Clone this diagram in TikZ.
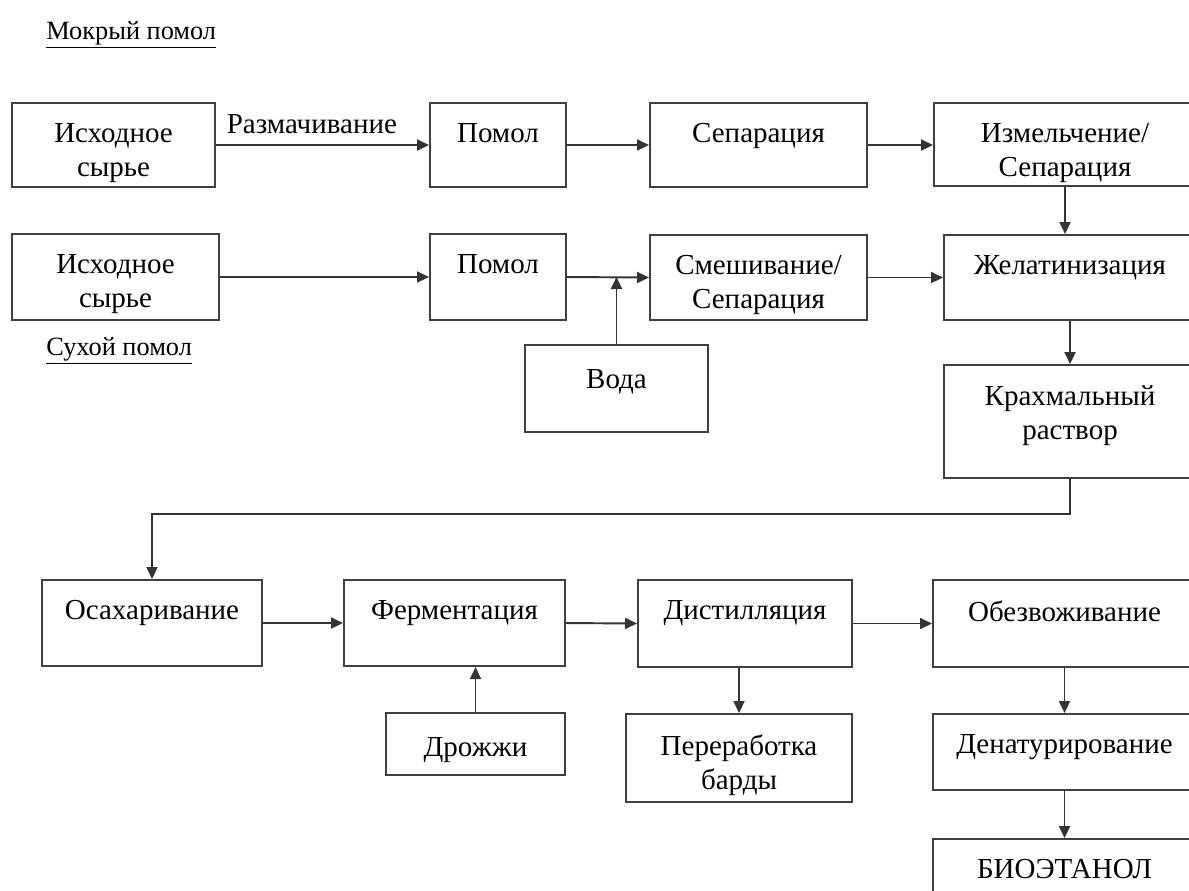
\documentclass[tikz,border=0pt]{standalone}
\usepackage{fontspec}
\setmainfont{Liberation Serif}
\usetikzlibrary{arrows.meta,calc}
\newcommand\bx[7][-0.42cm]{\node[box, anchor=north west, minimum width={(#5-#3)*0.02cm}, minimum height={(#6-#4)*0.02cm},
  label={[lbl, anchor=north, yshift=#1]north:#7}] (#2) at (#3,#4) {};}
\begin{document}
\begin{tikzpicture}[x=0.02cm,y=-0.02cm,
  box/.style={draw=black!75, line width=1.15pt, rectangle, inner sep=0pt},
  conn/.style={draw=black!80, line width=1.1pt, -{Triangle[length=0.24cm,width=0.22cm]}},
  lbl/.style={font=\fontsize{16.5}{19.5}\selectfont, align=center, inner sep=0pt},
  ulbl/.style={font=\fontsize{15}{18}\selectfont, inner sep=0pt, anchor=west}]
\clip (0,0) rectangle (1189,890);
\fill[white] (0,0) rectangle (1189,890);
% row 1
\bx{A1}{11}{102}{214}{186}{Исходное\\сырье}
\bx{P1}{429}{102}{565}{186}{Помол}
\bx{S1}{649}{102}{866}{186}{Сепарация}
\bx{I1}{933}{102}{1195}{185}{Измельчение/\\Сепарация}
% row 2
\bx{A2}{11}{233}{218}{319}{Исходное\\сырье}
\bx{P2}{429}{233}{565}{319}{Помол}
\bx{M2}{649}{234}{866}{319}{Смешивание/\\Сепарация}
\bx{G}{943}{234}{1195}{319}{Желатинизация}
\bx[-0.5cm]{W}{524}{344}{707}{431}{Вода}
\bx{K}{943}{364}{1195}{477}{Крахмальный\\раствор}
% row 3
\bx{O}{41}{579}{261}{665}{Осахаривание}
\bx{F}{343}{579}{564}{665}{Ферментация}
\bx{D}{637}{579}{851}{666}{Дистилляция}
\bx{B}{932}{579}{1195}{666}{Обезвоживание}
\bx[-0.5cm]{Y}{385}{712}{564}{774}{Дрожжи}
\bx{R}{625}{713}{851}{801}{Переработка\\барды}
\bx{N}{932}{713}{1195}{789}{Денатурирование}
\bx{E}{932}{838}{1195}{920}{БИОЭТАНОЛ}
% labels
\node[ulbl] (wet) at (46,35) {\underline{Мокрый помол}};
\node[ulbl] (dry) at (46,351) {\underline{Сухой помол}};
% connectors
\draw[conn] (A1.east) -- node[lbl, above=0.2cm, pos=0.45] (raz) {Размачивание} (P1.west);
\draw[conn] (P1.east) -- (S1.west);
\draw[conn] (S1.east) -- (I1.west |- S1.east);
\draw[conn] (A2.east) -- (P2.west);
\draw[conn] (P2.east) -- (M2.west);
\draw[conn] (M2.east) -- (G.west |- M2.east);
\coordinate (j) at (W.north |- P2.east);
\draw[conn] (W.north) -- (j);
\draw[conn] (I1.south) -- (I1.south |- G.north);
\draw[conn] (G.south) -- (K.north);
\draw[conn] (K.south) -- ++(0,35) -| (O.north);
\draw[conn] (O.east) -- (F.west);
\draw[conn] (F.east) -- (D.west);
\draw[conn] (D.east) -- (B.west);
\draw[conn] (Y.north) -- (Y.north |- F.south);
\draw[conn] (R.north |- D.south) -- (R.north);
\draw[conn] (B.south) -- (N.north);
\draw[conn] (N.south) -- (E.north);
\end{tikzpicture}
\end{document}
